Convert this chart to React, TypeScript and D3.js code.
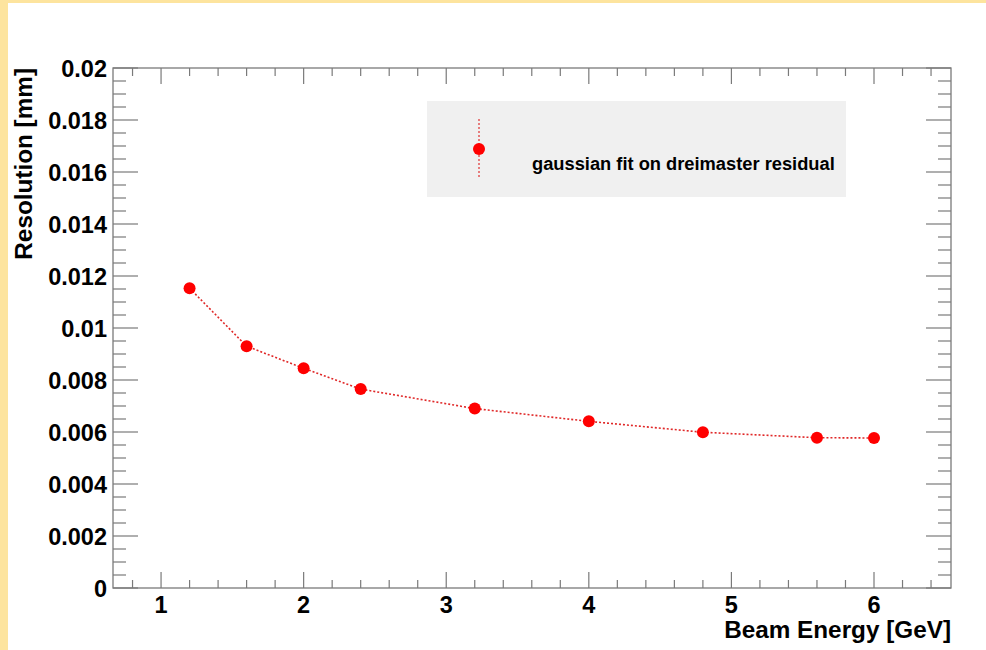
import React, { useEffect, useRef } from 'react';
import * as d3 from 'd3';

// Beam energy [GeV] and measured resolution [mm]
const energies = [1.2, 1.6, 2.0, 2.4, 3.2, 4.0, 4.8, 5.6, 6.0];
const resolutions = [0.01153, 0.0093, 0.00845, 0.00765, 0.0069, 0.00641, 0.00599, 0.00578, 0.00577];

const xMajorTicks = [1, 2, 3, 4, 5, 6];
const yMajorTicks = [0, 0.002, 0.004, 0.006, 0.008, 0.01, 0.012, 0.014, 0.016, 0.018, 0.02];
const yTickLabels = ['0', '0.002', '0.004', '0.006', '0.008', '0.01', '0.012', '0.014', '0.016', '0.018', '0.02'];

const legendLabel = 'gaussian fit on dreimaster residual';
const xTitle = 'Beam Energy [GeV]';
const yTitle = 'Resolution [mm]';

export default function App() {
  const svgRef = useRef<SVGSVGElement>(null);

  useEffect(() => {
    if (!svgRef.current) return;
    const width = 986;
    const height = 650;
    const frame = { left: 113, right: 951, top: 68, bottom: 588 };
    const font = '"Liberation Sans", Arial, Helvetica, sans-serif';
    const axisColor = '#7a7a7a';

    const svg = d3.select(svgRef.current);
    svg.selectAll('*').remove();
    svg.attr('width', width).attr('height', height);

    // canvas background with the yellowish edge
    svg.append('rect').attr('width', width).attr('height', height).attr('fill', '#fde49e');
    svg.append('rect').attr('x', 8).attr('y', 3).attr('width', width - 8).attr('height', height - 3).attr('fill', '#fff');

    const x = d3.scaleLinear().domain([0.663, 6.54]).range([frame.left, frame.right]);
    const y = d3.scaleLinear().domain([0, 0.02]).range([frame.bottom, frame.top]);

    // minor ticks
    const xMinor = d3.range(0.8, 6.5, 0.2).filter(v => Math.abs(v - Math.round(v)) > 1e-6);
    const yMinor = d3.range(0, 0.02, 0.0005).filter(v => Math.abs(v / 0.002 - Math.round(v / 0.002)) > 1e-6);

    const ticks = svg.append('g').attr('stroke', axisColor).attr('stroke-width', 1.2);

    xMajorTicks.forEach(v => {
      const px = x(v);
      ticks.append('line').attr('x1', px).attr('x2', px).attr('y1', frame.bottom).attr('y2', frame.bottom - 16);
      ticks.append('line').attr('x1', px).attr('x2', px).attr('y1', frame.top).attr('y2', frame.top + 16);
    });
    xMinor.forEach(v => {
      const px = x(v);
      ticks.append('line').attr('x1', px).attr('x2', px).attr('y1', frame.bottom).attr('y2', frame.bottom - 8);
      ticks.append('line').attr('x1', px).attr('x2', px).attr('y1', frame.top).attr('y2', frame.top + 8);
    });
    yMajorTicks.forEach(v => {
      const py = y(v);
      ticks.append('line').attr('x1', frame.left).attr('x2', frame.left + 25).attr('y1', py).attr('y2', py);
      ticks.append('line').attr('x1', frame.right).attr('x2', frame.right - 25).attr('y1', py).attr('y2', py);
    });
    yMinor.forEach(v => {
      const py = y(v);
      ticks.append('line').attr('x1', frame.left).attr('x2', frame.left + 13).attr('y1', py).attr('y2', py);
      ticks.append('line').attr('x1', frame.right).attr('x2', frame.right - 13).attr('y1', py).attr('y2', py);
    });

    // frame
    svg.append('rect')
      .attr('x', frame.left).attr('y', frame.top)
      .attr('width', frame.right - frame.left).attr('height', frame.bottom - frame.top)
      .attr('fill', 'none').attr('stroke', axisColor).attr('stroke-width', 1.3);

    // tick labels
    const labels = svg.append('g').attr('font-family', font).attr('font-weight', 'bold').attr('font-size', 23.5).attr('fill', '#000');
    xMajorTicks.forEach(v => {
      labels.append('text').attr('x', x(v)).attr('y', 613).attr('text-anchor', 'middle').text(String(v));
    });
    yMajorTicks.forEach((v, i) => {
      labels.append('text').attr('x', 107).attr('y', y(v) + 8.5).attr('text-anchor', 'end').text(yTickLabels[i]);
    });

    // axis titles
    labels.append('text').attr('x', frame.right).attr('y', 638).attr('text-anchor', 'end')
      .attr('font-size', 24.3).text(xTitle);
    labels.append('text')
      .attr('transform', `translate(32,${frame.top}) rotate(-90)`)
      .attr('text-anchor', 'end')
      .attr('font-size', 24.3)
      .text(yTitle);

    // legend
    svg.append('rect').attr('x', 427).attr('y', 101).attr('width', 419).attr('height', 96).attr('fill', '#f0f0f0');
    svg.append('line').attr('x1', 479).attr('x2', 479).attr('y1', 119).attr('y2', 178)
      .attr('stroke', '#e03030').attr('stroke-width', 1.2).attr('stroke-dasharray', '2,2');
    svg.append('circle').attr('cx', 479).attr('cy', 149).attr('r', 6).attr('fill', '#ff0000');
    svg.append('text').attr('x', 532).attr('y', 170)
      .attr('font-family', font).attr('font-weight', 'bold').attr('font-size', 18.3)
      .text(legendLabel);

    // data
    const pts = energies.map((e, i) => [e, resolutions[i]] as [number, number]);
    const line = d3.line<[number, number]>().x(d => x(d[0])).y(d => y(d[1]));
    svg.append('path').attr('d', line(pts) || '')
      .attr('fill', 'none').attr('stroke', '#e02828').attr('stroke-width', 1.6).attr('stroke-dasharray', '2,2');
    svg.append('g').selectAll('circle').data(pts).join('circle')
      .attr('cx', d => x(d[0])).attr('cy', d => y(d[1])).attr('r', 6).attr('fill', '#ff0000');
  }, []);

  return (
    <div style={{ position: 'absolute', left: 0, top: 0 }}>
      <svg ref={svgRef} style={{ display: 'block' }}></svg>
    </div>
  );
}
